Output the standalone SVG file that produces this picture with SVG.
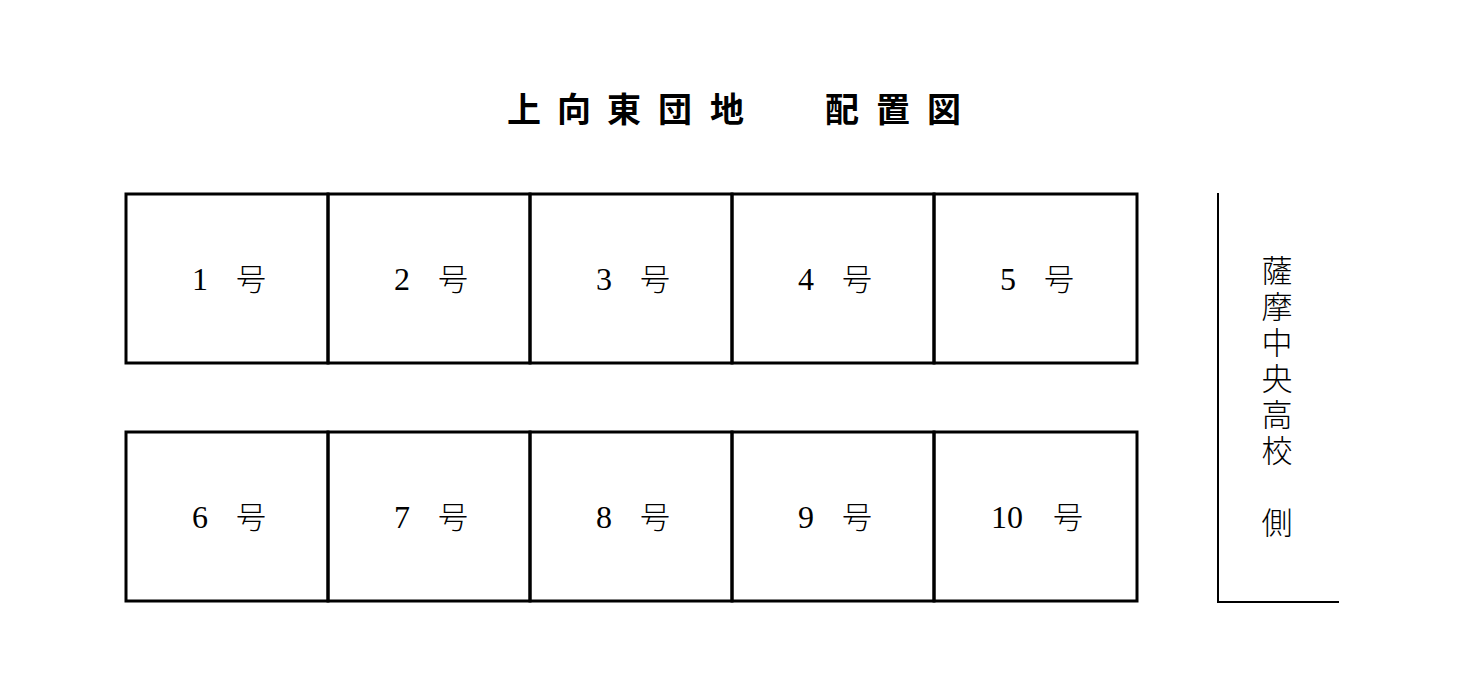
<svg xmlns="http://www.w3.org/2000/svg" width="1478" height="695" viewBox="0 0 1478 695">
<style>
.box{fill:none;stroke:#000;stroke-width:3}
.ln{fill:none;stroke:#000;stroke-width:2}
.num{font-family:"Liberation Serif","Noto Sans CJK JP",serif;font-size:32px;text-anchor:middle;fill:#000}
.go{font-family:"Noto Sans CJK JP",sans-serif;font-size:30px;font-weight:300;text-anchor:middle;fill:#000}
.title{font-family:"Noto Sans CJK JP",sans-serif;font-size:34px;font-weight:bold;text-anchor:middle;fill:#000}
.vt{font-family:"Noto Sans CJK JP",sans-serif;font-size:31px;font-weight:300;letter-spacing:5px;writing-mode:vertical-rl;fill:#000}
</style>
<rect width="1478" height="695" fill="#fff"/>
<g id="title">
<text class="title" x="524" y="122">上</text>
<text class="title" x="574" y="122">向</text>
<text class="title" x="624" y="122">東</text>
<text class="title" x="675" y="122">団</text>
<text class="title" x="727" y="122">地</text>
<text class="title" x="842" y="122">配</text>
<text class="title" x="893" y="122">置</text>
<text class="title" x="944" y="122">図</text>
</g>
<g id="connectors">
<polyline class="ln" points="1218,193 1218,602 1339,602"/>
</g>
<g id="unit1"><rect class="box" x="126" y="194" width="202" height="169"/><text class="num" x="200" y="290">1</text><text class="go" x="251" y="290">号</text></g>
<g id="unit2"><rect class="box" x="328" y="194" width="202" height="169"/><text class="num" x="402" y="290">2</text><text class="go" x="453" y="290">号</text></g>
<g id="unit3"><rect class="box" x="530" y="194" width="202" height="169"/><text class="num" x="604" y="290">3</text><text class="go" x="655" y="290">号</text></g>
<g id="unit4"><rect class="box" x="732" y="194" width="202" height="169"/><text class="num" x="806" y="290">4</text><text class="go" x="857" y="290">号</text></g>
<g id="unit5"><rect class="box" x="934" y="194" width="203" height="169"/><text class="num" x="1008" y="290">5</text><text class="go" x="1059" y="290">号</text></g>
<g id="unit6"><rect class="box" x="126" y="432" width="202" height="169"/><text class="num" x="200" y="528">6</text><text class="go" x="251" y="528">号</text></g>
<g id="unit7"><rect class="box" x="328" y="432" width="202" height="169"/><text class="num" x="402" y="528">7</text><text class="go" x="453" y="528">号</text></g>
<g id="unit8"><rect class="box" x="530" y="432" width="202" height="169"/><text class="num" x="604" y="528">8</text><text class="go" x="655" y="528">号</text></g>
<g id="unit9"><rect class="box" x="732" y="432" width="202" height="169"/><text class="num" x="806" y="528">9</text><text class="go" x="857" y="528">号</text></g>
<g id="unit10"><rect class="box" x="934" y="432" width="203" height="169"/><text class="num" x="1007" y="528">10</text><text class="go" x="1068" y="528">号</text></g>
<g id="school-side">
<text class="vt" x="1277" y="255">薩摩中央高校　側</text>
</g>
</svg>
